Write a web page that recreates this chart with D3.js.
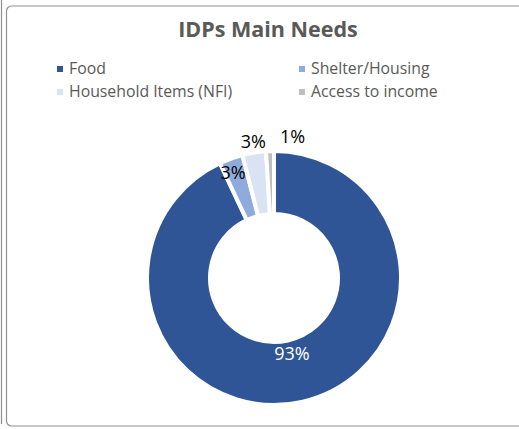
<!DOCTYPE html>
<html><head><meta charset="utf-8">
<script src="https://cdn.jsdelivr.net/npm/d3@7"></script>
<style>
html,body{margin:0;padding:0;background:#fff;}
svg{display:block;font-family:"Open Sans","Noto Sans",sans-serif;}
</style></head>
<body>
<svg id="chart" width="519" height="429"></svg>
<script>
const categories = ["Food", "Shelter/Housing", "Household Items (NFI)", "Access to income"];
const values = [93, 3, 3, 1];
const valueLabels = ["93%", "3%", "3%", "1%"];
const colors = ["#2F5597", "#8FAADC", "#DAE3F3", "#BFBFBF"];
const title = "IDPs Main Needs";

const svg = d3.select("#chart");
// frames
svg.append("line").attr("x1",1.5).attr("x2",1.5).attr("y1",0).attr("y2",424)
  .attr("stroke","#8f8f8f").attr("stroke-width",1.2);
svg.append("rect").attr("x",6.5).attr("y",6).attr("width",530).attr("height",420)
  .attr("rx",5).attr("fill","#fff").attr("stroke","#8f8f8f").attr("stroke-width",1.2);

svg.append("text").attr("x",268).attr("y",37).attr("text-anchor","middle")
  .attr("font-size",21.5).attr("font-weight","bold").attr("fill","#595959").text(title);

// legend
const legendPos = [[57,74],[299,74],[57,97],[299,97]];
categories.forEach((c,i)=>{
  const [x,y] = legendPos[i];
  svg.append("rect").attr("x",x).attr("y",y-8).attr("width",6).attr("height",6).attr("fill",colors[i]);
  svg.append("text").attr("x",x+12).attr("y",y).attr("font-size",15.8).attr("fill","#595959").text(c);
});

const cx = 274, cy = 278;
const pie = d3.pie().sort(null).value(d=>d)(values);
const arc = d3.arc().innerRadius(64).outerRadius(127);
const g = svg.append("g").attr("transform",`translate(${cx},${cy})`);
g.selectAll("path").data(pie).join("path")
  .attr("d",arc).attr("fill",(d,i)=>colors[i])
  .attr("stroke","#fff").attr("stroke-width",4).attr("stroke-linejoin","miter");

const labelR = [78, 112, 138, 141];
const labelDx = [1, -3, 1, 23];
const labelFill = ["#fff","#000","#000","#000"];
pie.forEach((d,i)=>{
  const a = (d.startAngle + d.endAngle)/2;
  const x = Math.sin(a)*labelR[i] + labelDx[i];
  const y = -Math.cos(a)*labelR[i];
  g.append("text").attr("x",x).attr("y",y).attr("dy","0.35em").attr("text-anchor","middle")
    .attr("font-size",18).attr("fill",labelFill[i]).text(valueLabels[i]);
});
</script>
</body></html>
